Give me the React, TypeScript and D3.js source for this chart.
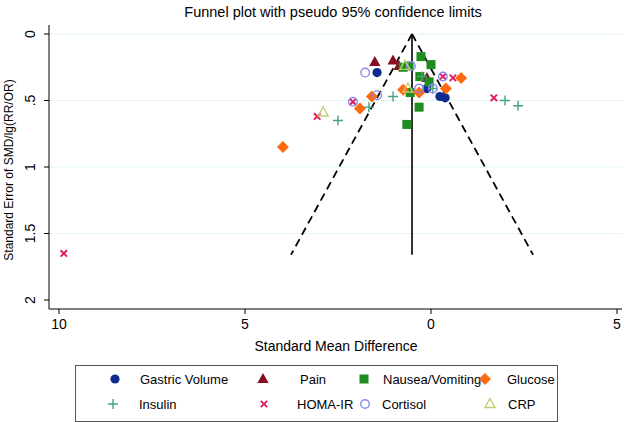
import React from "react";
import * as d3 from "d3";

// ---- data (SMD, standard error) ----
const gastricVolume = [
  [1.45, 0.29], [0.11, 0.41], [-0.24, 0.47], [-0.38, 0.48],
];
const pain = [
  [1.51, 0.21], [1.02, 0.2], [0.86, 0.24], [0.11, 0.33],
];
const nausea = [
  [0.75, 0.25], [0.59, 0.24], [0.27, 0.17], [0.0, 0.23], [0.3, 0.32],
  [0.05, 0.36], [0.32, 0.55], [0.65, 0.68], [0.56, 0.44],
];
const glucose = [
  [3.98, 0.85], [1.91, 0.56], [1.59, 0.47], [0.75, 0.42], [0.32, 0.44],
  [-0.4, 0.41], [-0.81, 0.33],
];
const insulin = [
  [2.5, 0.65], [1.67, 0.55], [1.02, 0.47], [0.24, 0.32], [-0.05, 0.41],
  [-1.99, 0.5], [-2.34, 0.54],
];
const homaIR = [
  [9.87, 1.65], [3.06, 0.62], [2.1, 0.51], [-0.32, 0.32], [-0.59, 0.33],
  [-1.69, 0.48],
];
const cortisol = [
  [1.77, 0.29], [0.54, 0.24], [2.1, 0.51], [1.45, 0.46], [0.32, 0.41],
  [-0.05, 0.41], [-0.32, 0.32],
];
const crp = [
  [2.9, 0.59], [0.7, 0.24], [0.62, 0.41],
];

const pooledEffect = 0.51;
const maxSE = 1.66;

const xTicks = [10, 5, 0, -5];
const xTickLabels = ["10", "5", "0", "5"];
const yTicks = [0, 0.5, 1, 1.5, 2];
const yTickLabels = ["0", ".5", "1", "1.5", "2"];
const gridTicks = [0, 0.5, 1, 1.5];

type Shape = "circle" | "triangle" | "square" | "diamond" | "plus" | "x" | "ocircle" | "otriangle";

const seriesNames = ["Gastric Volume", "Pain", "Nausea/Vomiting", "Glucose", "Insulin", "HOMA-IR", "Cortisol", "CRP"];
const seriesData = [gastricVolume, pain, nausea, glucose, insulin, homaIR, cortisol, crp];
const seriesShapes: Shape[] = ["circle", "triangle", "square", "diamond", "plus", "x", "ocircle", "otriangle"];
const seriesColors = ["#0f2c8c", "#8b0a24", "#1e8c1e", "#ff6a10", "#45a37a", "#e0195a", "#8a8af0", "#c2cf70"];

const FONT = "'Liberation Sans', Arial, Helvetica, sans-serif";

function Marker({ shape, x, y, color }: { shape: Shape; x: number; y: number; color: string }) {
  switch (shape) {
    case "circle":
      return <circle cx={x} cy={y} r={4.6} fill={color} />;
    case "ocircle":
      return <circle cx={x} cy={y} r={4.3} fill="none" stroke={color} strokeWidth={1.4} />;
    case "triangle":
      return <path d={`M${x},${y - 6}L${x + 5.6},${y + 4}L${x - 5.6},${y + 4}Z`} fill={color} />;
    case "otriangle":
      return <path d={`M${x},${y - 5.5}L${x + 5},${y + 3.5}L${x - 5},${y + 3.5}Z`} fill="none" stroke={color} strokeWidth={1.4} />;
    case "square":
      return <rect x={x - 4.5} y={y - 4.5} width={9} height={9} fill={color} />;
    case "diamond":
      return <path d={`M${x},${y - 6}L${x + 6},${y}L${x},${y + 6}L${x - 6},${y}Z`} fill={color} />;
    case "plus":
      return (
        <path d={`M${x - 5},${y}H${x + 5}M${x},${y - 5}V${y + 5}`} stroke={color} strokeWidth={1.4} fill="none" />
      );
    case "x":
      return (
        <path d={`M${x - 3.2},${y - 3.2}L${x + 3.2},${y + 3.2}M${x - 3.2},${y + 3.2}L${x + 3.2},${y - 3.2}`} stroke={color} strokeWidth={1.9} fill="none" />
      );
  }
  return null;
}

export default function App() {
  const W = 628;
  const H = 422;
  const x = d3.scaleLinear().domain([10, -5]).range([59, 617]);
  const y = d3.scaleLinear().domain([0, 2]).range([34, 300]);
  const axisLeft = 49;
  const axisBottom = 309;

  const funnelLeft = d3.line<[number, number]>()
    .x((d) => x(d[0]))
    .y((d) => y(d[1]));
  const leftPts: [number, number][] = [
    [pooledEffect, 0],
    [pooledEffect + 1.96 * maxSE, maxSE],
  ];
  const rightPts: [number, number][] = [
    [pooledEffect, 0],
    [pooledEffect - 1.96 * maxSE, maxSE],
  ];

  const legendCols = [
    { mx: 115, tx: 140 },
    { mx: 263, tx: 300 },
    { mx: 364, tx: 383 },
    { mx: 485, tx: 507 },
  ];
  const legendCols2 = [
    { mx: 113, tx: 139 },
    { mx: 264, tx: 297 },
    { mx: 365, tx: 382 },
    { mx: 490, tx: 508 },
  ];
  const legendRows = [379, 404];

  return (
    <svg width={W} height={H} style={{ position: "absolute", left: 0, top: 0, background: "#fff" }} fontFamily={FONT}>
      <rect x={0} y={0} width={W} height={H} fill="#fff" />
      {/* title */}
      <text x={333} y={17} textAnchor="middle" fontSize={14.5} fill="#000">
        Funnel plot with pseudo 95% confidence limits
      </text>

      {/* grid */}
      {gridTicks.map((t) => (
        <line key={t} x1={axisLeft} x2={622} y1={y(t)} y2={y(t)} stroke="#e2f5f3" strokeWidth={1.2} />
      ))}

      {/* axes */}
      <line x1={axisLeft} x2={axisLeft} y1={25} y2={axisBottom} stroke="#000" strokeWidth={1} />
      <line x1={axisLeft} x2={622} y1={axisBottom} y2={axisBottom} stroke="#000" strokeWidth={1} />
      {yTicks.map((t, i) => (
        <g key={t}>
          <line x1={axisLeft - 5} x2={axisLeft} y1={y(t)} y2={y(t)} stroke="#000" />
          <text
            transform={`translate(${35},${y(t)}) rotate(-90)`}
            textAnchor="middle"
            fontSize={14}
            fill="#000"
          >
            {yTickLabels[i]}
          </text>
        </g>
      ))}
      {xTicks.map((t, i) => (
        <g key={t}>
          <line x1={x(t)} x2={x(t)} y1={axisBottom} y2={axisBottom + 5} stroke="#000" />
          <text x={x(t)} y={axisBottom + 20} textAnchor="middle" fontSize={14} fill="#000">
            {xTickLabels[i]}
          </text>
        </g>
      ))}
      <text x={336} y={351} textAnchor="middle" fontSize={14} fill="#000">
        Standard Mean Difference
      </text>
      <text transform={`translate(13,170) rotate(-90)`} textAnchor="middle" fontSize={12} fill="#000">
        Standard Error of SMD/lg(RR/OR)
      </text>

      {/* funnel */}
      <path d={funnelLeft(leftPts) || ""} stroke="#000" strokeWidth={1.8} strokeDasharray="8,5" fill="none" />
      <path d={funnelLeft(rightPts) || ""} stroke="#000" strokeWidth={1.8} strokeDasharray="8,5" fill="none" />
      <line x1={x(pooledEffect)} x2={x(pooledEffect)} y1={y(0)} y2={y(maxSE)} stroke="#000" strokeWidth={1.6} />

      {/* points */}
      {seriesData.map((s, si) => (
        <g key={si}>
          {s.map((d, i) => (
            <Marker key={i} shape={seriesShapes[si]} x={x(d[0])} y={y(d[1])} color={seriesColors[si]} />
          ))}
        </g>
      ))}

      {/* legend */}
      <rect x={75.5} y={365.5} width={482} height={56} fill="#fff" stroke="#555" strokeWidth={1} />
      {seriesNames.map((name, i) => {
        const row = Math.floor(i / 4);
        const col = row === 0 ? legendCols[i % 4] : legendCols2[i % 4];
        const ly = legendRows[row];
        return (
          <g key={name}>
            <Marker shape={seriesShapes[i]} x={col.mx} y={ly} color={seriesColors[i]} />
            <text x={col.tx} y={ly + 4.5} fontSize={13} fill="#000">
              {name}
            </text>
          </g>
        );
      })}
    </svg>
  );
}
